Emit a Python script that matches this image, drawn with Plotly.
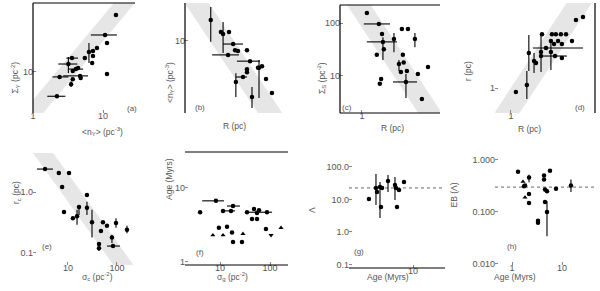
import plotly.graph_objects as go

# ---------------- data ----------------
# panel (a)
a_x = [15.3, 10.7, 11.4, 8.2, 7.2, 6.3, 7.2, 5.5, 7.0, 3.6, 3.2, 4.4, 4.1, 3.7, 4.7, 4.8, 3.7, 2.4, 3.5, 11.4, 2.2]
a_y = [65.2, 33.8, 25.9, 22.0, 20.0, 19.3, 16.9, 15.8, 13.4, 15.8, 13.0, 11.4, 11.0, 10.3, 8.8, 8.2, 7.9, 8.5, 6.7, 9.4, 4.5]
a_xlo = [None, 6.7, None, None, None, None, None, None, None, 3.0, 2.3, None, 3.2, None, 2.7, None, None, 1.9, None, None, 1.6]
a_xhi = [None, 15.8, None, None, None, None, None, None, None, 4.4, 4.3, None, 5.2, None, 6.1, None, None, 3.2, None, None, 2.9]
a_ylo = [None, None, None, None, None, 13.4, None, None, None, None, 9.7, None, None, None, None, None, None, None, 6.1, None, None]
a_yhi = [None, None, None, None, None, 25.9, None, None, None, None, 16.4, None, None, None, None, None, None, None, 7.4, None, None]

# panel (b)
b_x = [1.04, 1.29, 1.35, 1.53, 1.67, 1.74, 1.85, 2.24, 1.50, 2.39, 3.08, 2.83, 2.24, 2.24, 2.89, 2.06, 1.77, 3.35, 3.80, 2.49]
b_y = [20.6, 13.6, 12.7, 13.6, 9.0, 7.3, 7.1, 7.3, 6.2, 5.0, 4.2, 4.0, 3.8, 3.4, 4.0, 2.9, 2.44, 2.7, 1.67, 1.46]
b_xlo = [None, None, None, None, 1.35, None, None, None, 1.07, 1.81, None, None, None, None, None, 1.77, None, None, None, None]
b_xhi = [None, None, None, None, 2.06, None, None, None, 1.89, 2.95, None, None, None, None, None, 2.24, None, None, None, None]
b_ylo = [9.7, None, 6.6, None, None, None, None, None, None, None, None, None, None, None, 1.41, None, 1.46, None, None, 1.0]
b_yhi = [32.1, None, 19.2, None, None, None, None, None, None, None, None, None, None, None, 5.2, None, 3.3, None, None, 2.06]

# panel (c)
c_x = [1.11, 1.43, 2.33, 2.65, 1.53, 1.97, 3.07, 1.56, 1.59, 1.37, 2.38, 2.19, 2.42, 4.05, 2.59, 2.28, 3.27, 1.50, 1.46, 2.54, 3.56]
c_y = [154, 96, 77, 77, 62, 50, 50, 44, 32, 25, 25, 16.8, 18.0, 14.8, 12.4, 11.9, 10.9, 8.8, 7.1, 7.7, 3.68]
c_xlo = [None, 1.04, None, None, None, None, None, 1.11, None, None, None, None, None, None, None, None, None, None, None, 1.93, None]
c_xhi = [None, 1.81, None, None, None, None, None, 2.10, None, None, None, None, None, None, None, None, None, None, None, 3.21, None]
c_ylo = [None, None, None, None, None, 28, 35, 20, None, None, None, 12.4, None, None, None, None, None, None, None, 3.85, None]
c_yhi = [None, None, None, None, None, 65, 65, 54, None, None, None, 20, None, None, None, None, None, None, None, 10.9, None]

# panel (d)
d_x = [4.6, 3.96, 1.93, 2.38, 2.59, 2.88, 3.21, 1.46, 2.33, 2.71, 3.64, 2.49, 2.94, 2.10, 1.89, 2.33, 1.63, 1.70, 1.89, 2.54, 2.94, 1.40, 1.11]
d_y = [7.7, 7.1, 4.7, 4.7, 4.7, 4.7, 4.7, 2.74, 3.87, 3.87, 3.87, 3.55, 3.55, 3.16, 2.82, 2.82, 2.18, 2.05, 2.51, 2.51, 2.37, 1.09, 0.89]
d_xlo = [None] * 13 + [1.59, None, None, None, None, 1.85, None, None, None, None]
d_xhi = [None] * 13 + [4.6, None, None, None, None, 3.27, None, None, None, None]
d_ylo = [None] * 7 + [1.63, None, None, None, None, None, None, 1.58, 1.68, 1.54, None, None, None, None, 0.73, None]
d_yhi = [None] * 7 + [4.6, None, None, None, None, None, None, 4.87, 3.98, 2.74, None, None, None, None, 1.63, None]

# panel (e)
e_x = [3.40, 6.5, 10.5, 7.6, 24.4, 24.4, 16.8, 8.3, 15.3, 12.6, 30.9, 51.8, 62.5, 47.1, 95.5, 160, 79, 43, 43, 83]
e_y = [2.38, 2.05, 2.05, 1.21, 0.89, 0.55, 0.57, 0.47, 0.40, 0.37, 0.32, 0.32, 0.28, 0.23, 0.31, 0.24, 0.18, 0.14, 0.12, 0.13]
e_xlo = [2.33] + [None] * 18 + [62.5]
e_xhi = [4.94] + [None] * 18 + [115]
e_ylo = [None] * 5 + [0.42, 0.42, None, 0.29, None, 0.18, None, None, None, 0.26, 0.21, 0.146, None, 0.108, None]
e_yhi = [None] * 5 + [0.69, 0.61, None, 0.51, None, 0.51, None, None, None, 0.37, 0.28, 0.20, None, 0.15, None]

# panel (f)
f_x = [8.3, 4.0, 18.2, 11.5, 16.6, 34.7, 47.9, 60.3, 55, 87, 43.7, 55, 9.5, 13.8, 17.4, 18.2, 27.5, 83, 7.2, 11.5, 28.8, 166, 105]
f_y = [6.7, 4.7, 5.7, 4.9, 4.9, 4.7, 5.2, 5.0, 4.6, 4.7, 3.8, 3.8, 2.9, 3.0, 2.5, 1.86, 1.86, 2.8, 2.3, 2.3, 2.4, 2.9, 2.3]
f_sym = ["circle"] * 18 + ["triangle-up"] * 4 + ["triangle-down"]
f_xlo = [4.4, None, 13.8, None, 11.0, None, None, None, None, 36.3] + [None] * 13
f_xhi = [12.0, None, 25.1, None, 20.0, None, None, None, None, 110] + [None] * 13

# panel (g)
g_x = [2.05, 2.64, 2.74, 3.05, 3.16, 3.28, 4.07, 5.23, 5.42, 6.04, 7.23, 5.62]
g_y = [10.4, 22.6, 17, 24.3, 5.9, 22.6, 37, 27.9, 22.6, 19.6, 34.5, 5.9]
g_ylo = [None, 6.8, None, 2.7, None, None, 17, 9.7, None, None, None, None]
g_yhi = [None, 61, None, 34.5, None, None, 56.8, 49, None, None, None, None]
g_ref = 22.6

# panel (h)
h_x = [1.32, 5.75, 4.37, 4.37, 2.19, 1.66, 1.82, 1.74, 4.57, 5.01, 7.59, 15.1, 1.82, 2.19, 2.19, 4.57, 5.01, 3.31, 3.31]
h_y = [0.59, 0.62, 0.50, 0.42, 0.46, 0.38, 0.32, 0.31, 0.27, 0.25, 0.28, 0.32, 0.19, 0.22, 0.148, 0.155, 0.10, 0.068, 0.062]
h_sym = ["circle"] * 5 + ["triangle-up"] + ["circle"] * 6 + ["triangle-up"] + ["circle"] * 6
h_ylo = [None] * 4 + [0.37] + [None] * 6 + [0.24] + [None] * 4 + [0.034, None, None]
h_yhi = [None] * 4 + [0.52] + [None] * 6 + [0.42] + [None] * 4 + [0.16, None, None]
h_ref = 0.30

# fitted relations drawn as grey bands: (log intercept, slope, half width in dex)
band_a = (0.42, 1.2, 0.18)
band_b = (1.294, -2.43, 0.27)
band_c = (2.253, -3.12, 0.34)
band_d = (-0.236, 2.07, 0.24)
band_e = (1.19, -1.12, 0.23)

# ---------------- layout ----------------
W, H = 600, 291
TXT = "#555555"
FONT = "Liberation Sans, Arial, sans-serif"

panels = {
    "a": dict(box=(33, 135, 3, 113), xr=[0, 1.457], yr=[0.414, 1.986],
              xt=([1, 10], ["1", "10"]), yt=([10], ["10"]),
              xtitle="&lt;n<sub>Y</sub>&gt; (pc<sup>-3</sup>)", xtpos=(80, 132),
              ytitle="Σ<sub>Y</sub> (pc<sup>-2</sup>)", ytpos=(8, 60),
              lines=["left", "top"], lab="(a)", labpos=(125, 108)),
    "b": dict(box=(185, 285, 3, 113), xr=[-0.22, 0.70], yr=[-0.075, 1.567],
              xt=([], []), yt=([10], ["10"]),
              xtitle="R (pc)", xtpos=(234, 126),
              ytitle="&lt;n<sub>Y</sub>&gt; (pc<sup>-3</sup>)", ytpos=(162, 60),
              lines=["left"], lab="(b)", labpos=(193, 107)),
    "c": dict(box=(340, 440, 5, 113), xr=[-0.202, 0.718], yr=[0.30, 2.34],
              xt=([1], ["1"]), yt=([10, 100], ["10", "100"]),
              xtitle="R (pc)", xtpos=(392, 128),
              ytitle="Σ<sub>S</sub> (pc<sup>-2</sup>)", ytpos=(322, 60),
              lines=["left", "top", "bottom"], lab="(c)", labpos=(347, 107)),
    "d": dict(box=(495, 595, 3, 113), xr=[-0.147, 0.773], yr=[-0.3125, 1.0625],
              xt=([1], ["1"]), yt=([1], ["1"]),
              xtitle="R (pc)", xtpos=(543, 129),
              ytitle="r (pc)", ytpos=(475, 59),
              lines=["right"], lab="(d)", labpos=(587, 107)),
    "e": dict(box=(33, 133, 153, 265), xr=[0.286, 2.327], yr=[-1.197, 0.640],
              xt=([10, 100], ["10", "100"]), yt=([0.1, 1], ["0.1", "1.0"]),
              xtitle="σ<sub>c</sub> (pc<sup>-2</sup>)", xtpos=(80, 284),
              ytitle="r<sub>c</sub> (pc)", ytpos=(9, 206),
              lines=[], lab="(e)", labpos=(40, 253)),
    "f": dict(box=(185, 288, 152, 265), xr=[0.3, 2.36], yr=[-0.041, 1.486],
              xt=([10, 100], ["10", "100"]), yt=([1, 10], ["1", "10"]),
              xtitle="σ<sub>g</sub> (pc<sup>-2</sup>)", xtpos=(232, 284),
              ytitle="Age (Myrs)", ytpos=(162, 202),
              lines=["top", "bottom"], lab="(f)", labpos=(194, 259)),
    "g": dict(box=(349, 445, 152, 268), xr=[0, 1.5], yr=[-1.108, 2.46],
              xt=([10], ["10"]), yt=([0.1, 1, 10, 100], ["0.1", "1.0", "10.0", "100.0"]),
              xtitle="Age (Myrs)", xtpos=(388, 284),
              ytitle="Λ", ytpos=(312, 215),
              lines=["bottom"], lab="(g)", labpos=(359, 258)),
    "h": dict(box=(495, 595, 152, 265), xr=[-0.34, 1.66], yr=[-2.02, 0.151],
              xt=([1, 10], ["1", "10"]), yt=([0.01, 0.1, 1], ["0.010", "0.100", "1.000"]),
              xtitle="Age (Myrs)", xtpos=(538, 284),
              ytitle="EB (Λ)", ytpos=(460, 210),
              lines=[], lab="(h)", labpos=(519, 253)),
}

data = {
    "a": (a_x, a_y, a_xlo, a_xhi, a_ylo, a_yhi, None, band_a),
    "b": (b_x, b_y, b_xlo, b_xhi, b_ylo, b_yhi, None, band_b),
    "c": (c_x, c_y, c_xlo, c_xhi, c_ylo, c_yhi, None, band_c),
    "d": (d_x, d_y, d_xlo, d_xhi, d_ylo, d_yhi, None, band_d),
    "e": (e_x, e_y, e_xlo, e_xhi, e_ylo, e_yhi, None, band_e),
    "f": (f_x, f_y, f_xlo, f_xhi, None, None, f_sym, None),
    "g": (g_x, g_y, None, None, g_ylo, g_yhi, None, None),
    "h": (h_x, h_y, None, None, h_ylo, h_yhi, h_sym, None),
}
refs = {"g": g_ref, "h": h_ref}


def err(vals, lo, hi):
    if lo is None:
        return None
    plus = [(h - v) if h is not None else 0 for v, h in zip(vals, hi)]
    minus = [(v - l) if l is not None else 0 for v, l in zip(vals, lo)]
    return dict(type="data", symmetric=False, array=plus, arrayminus=minus,
                color="black", thickness=1.1, width=0)


fig = go.Figure()
layout = dict(width=W, height=H, margin=dict(l=0, r=0, t=0, b=0, autoexpand=False),
              plot_bgcolor="white", paper_bgcolor="white", showlegend=False,
              font=dict(family=FONT, size=9, color=TXT))
shapes, annots = [], []

for i, (k, p) in enumerate(panels.items(), start=1):
    xa = "xaxis" if i == 1 else f"xaxis{i}"
    ya = "yaxis" if i == 1 else f"yaxis{i}"
    xr = "x" if i == 1 else f"x{i}"
    yr = "y" if i == 1 else f"y{i}"
    x0, x1, y0, y1 = p["box"]
    common = dict(type="log", showgrid=False, zeroline=False, showline=False,
                  automargin=False, ticks="inside", ticklen=3, tickcolor="#888",
                  tickfont=dict(size=9, color=TXT, family=FONT))
    layout[xa] = dict(common, domain=[x0 / W, x1 / W], range=p["xr"], anchor=yr,
                      tickvals=p["xt"][0], ticktext=p["xt"][1], ticklabelstandoff=-4)
    layout[ya] = dict(common, domain=[1 - y1 / H, 1 - y0 / H], range=p["yr"], anchor=xr,
                      tickvals=p["yt"][0], ticktext=p["yt"][1], ticklabelstandoff=-1)

    xs, ys, xlo, xhi, ylo, yhi, sym, band = data[k]
    lx0, lx1 = 10 ** p["xr"][0], 10 ** p["xr"][1]
    if band is not None:
        c0, s, w = band
        bx = [lx0, lx1, lx1, lx0]
        by = [10 ** (c0 + s * p["xr"][0] + w), 10 ** (c0 + s * p["xr"][1] + w),
              10 ** (c0 + s * p["xr"][1] - w), 10 ** (c0 + s * p["xr"][0] - w)]
        fig.add_trace(go.Scatter(x=bx, y=by, fill="toself", mode="none",
                                 fillcolor="#e6e6e6", xaxis=xr, yaxis=yr, hoverinfo="skip"))
    if k in refs:
        fig.add_trace(go.Scatter(x=[lx0, lx1], y=[refs[k], refs[k]], mode="lines",
                                 line=dict(color="#666", width=1, dash="dot"),
                                 xaxis=xr, yaxis=yr, hoverinfo="skip"))
    fig.add_trace(go.Scatter(
        x=xs, y=ys, mode="markers", xaxis=xr, yaxis=yr,
        marker=dict(color="black", size=4.5, symbol=sym if sym else "circle"),
        error_x=err(xs, xlo, xhi), error_y=err(ys, ylo, yhi)))

    for side in p["lines"]:
        if side == "left":
            s = dict(x0=0, x1=0, y0=0, y1=1)
        elif side == "right":
            s = dict(x0=1, x1=1, y0=0, y1=1)
        elif side == "top":
            s = dict(x0=0, x1=1, y0=1, y1=1)
        else:
            s = dict(x0=0, x1=1, y0=0, y1=0)
        shapes.append(dict(type="line", xref=f"{xr} domain", yref=f"{yr} domain",
                           line=dict(color="black", width=1.2), **s))
    annots.append(dict(text=p["lab"], x=p["labpos"][0] / W, y=1 - p["labpos"][1] / H,
                       xref="paper", yref="paper", showarrow=False,
                       font=dict(size=8, color=TXT)))
    annots.append(dict(text=p["xtitle"], x=p["xtpos"][0] / W, y=1 - p["xtpos"][1] / H,
                       xref="paper", yref="paper", showarrow=False,
                       font=dict(size=8.5, color=TXT)))
    annots.append(dict(text=p["ytitle"], x=p["ytpos"][0] / W, y=1 - p["ytpos"][1] / H,
                       xref="paper", yref="paper", showarrow=False, textangle=-90,
                       font=dict(size=8.5, color=TXT)))

layout["shapes"] = shapes
layout["annotations"] = annots
fig.update_layout(**layout)
fig.write_html("out.html", config={"displayModeBar": False},
               post_script="document.body.style.margin='0px';document.body.style.overflow='hidden';")
